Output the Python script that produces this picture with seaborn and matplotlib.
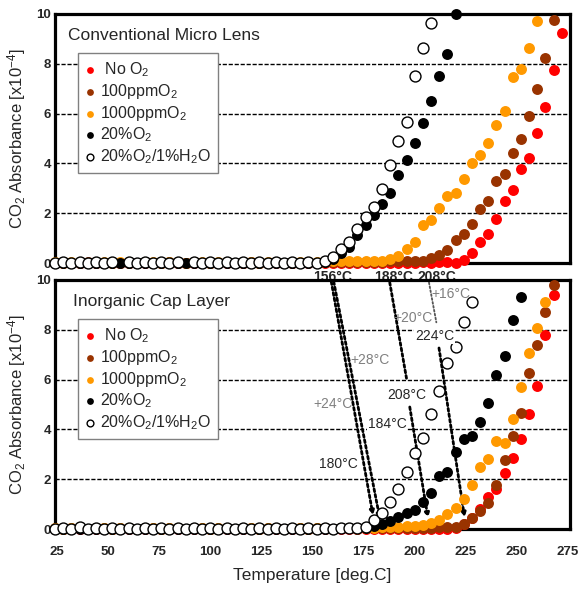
import numpy as np
import pandas as pd
import seaborn as sns
import matplotlib
matplotlib.use('Agg')
import matplotlib.pyplot as plt

sns.set_style('white')
plt.rcParams['font.family'] = ['Liberation Sans', 'DejaVu Sans']
plt.rcParams['mathtext.fontset'] = 'custom'
plt.rcParams['mathtext.rm'] = 'Liberation Sans'
plt.rcParams['mathtext.it'] = 'Liberation Sans:italic'
plt.rcParams['mathtext.bf'] = 'Liberation Sans:bold'
plt.rcParams['mathtext.default'] = 'regular'

nan = np.nan

# measurement temperatures [deg.C]
temps = [24, 28, 32, 36, 40, 44, 48, 52, 56, 60,
         64, 68, 72, 76, 80, 84, 88, 92, 96, 100,
         104, 108, 112, 116, 120, 124, 128, 132, 136, 140,
         144, 148, 152, 156, 160, 164, 168, 172, 176, 180,
         184, 188, 192, 196, 200, 204, 208, 212, 216, 220,
         224, 228, 232, 236, 240, 244, 248, 252, 256, 260,
         264, 268, 272]

# ---- Conventional Micro Lens (CO2 absorbance x1e-4)
red_top = [0, 0.01, 0, 0.01, 0, 0, 0.01, 0, 0, 0.01,
           0, 0, 0.01, 0, 0, 0.01, 0, 0, 0.01, 0,
           0, 0.01, 0, 0, 0.01, 0, 0, 0.01, 0, 0,
           0.01, 0, 0, 0.01, 0, 0, 0.01, 0, 0, 0.01,
           0, 0.01, 0, 0.02, 0.02, 0.03, 0.02, 0.03, 0.03, 0.02,
           0.11, 0.42, 0.85, 1.18, 1.76, 2.47, 2.93, 3.78, 4.22, 5.21,
           6.25, 7.74, 9.22]
brown_top = [0.02, 0.03, 0.02, 0.02, 0.03, 0.02, 0.02, 0.03, 0.02, 0.02,
             0.02, 0.03, 0.02, 0.02, 0.03, 0.02, 0.02, 0.03, 0.02, 0.02,
             0.02, 0.03, 0.02, 0.02, 0.03, 0.02, 0.02, 0.03, 0.02, 0.02,
             0.02, 0.03, 0.02, 0.03, 0.03, 0.04, 0.04, 0.04, 0.05, 0.05,
             0.05, 0.07, 0.07, 0.08, 0.08, 0.10, 0.19, 0.32, 0.52, 0.93,
             1.16, 1.58, 2.17, 2.51, 3.28, 3.58, 4.40, 4.99, 5.90, 6.98,
             8.25, 9.77]
orange_top = [0.03, 0.02, 0.03, 0.03, 0.02, 0.03, 0.03, 0.02, 0.03, 0.03,
              0.02, 0.03, 0.03, 0.02, 0.03, 0.03, 0.02, 0.03, 0.03, 0.02,
              0.03, 0.03, 0.02, 0.03, 0.03, 0.02, 0.03, 0.03, 0.02, 0.03,
              0.03, 0.03, 0.04, 0.05, 0.07, 0.08, 0.08, 0.08, 0.08, 0.09,
              0.10, 0.15, 0.28, 0.58, 0.86, 1.53, 1.73, 2.21, 2.70, 2.83,
              3.36, 4.02, 4.33, 4.80, 5.56, 6.10, 7.47, 7.81, 8.62, 9.71]
black_top = [0.02, 0.02, 0.02, 0.02, 0.02, 0.02, 0.02, 0.02, 0.02, 0.02,
             0.02, 0.02, 0.02, 0.02, 0.02, 0.02, 0.02, 0.02, 0.02, 0.02,
             0.02, 0.02, 0.02, 0.02, 0.02, 0.02, 0.02, 0.02, 0.02, 0.02,
             0.02, 0.02, 0.02, 0.05, 0.15, 0.39, 0.66, 1.13, 1.52, 1.94,
             2.35, 2.83, 3.54, 4.13, 4.81, 5.62, 6.50, 7.51, 8.41, 10.0]
open_top = [0.02, 0.03, 0.02, 0.03, 0.02, 0.03, 0.02, 0.03, nan, 0.03,
            0.02, 0.03, 0.02, 0.03, 0.02, 0.03, nan, 0.03, 0.02, 0.03,
            0.02, 0.03, 0.02, 0.03, 0.02, 0.03, 0.02, 0.03, 0.02, 0.03,
            0.02, 0.03, 0.02, 0.07, 0.23, 0.55, 0.86, 1.37, 1.85, 2.26,
            2.97, 3.94, 4.89, 5.67, 7.51, 8.62, 9.62]

# ---- Inorganic Cap Layer
red_bot = [0.01, 0, 0.01, 0, 0.01, 0, 0.01, 0, 0.01, 0,
           0.01, 0, 0.01, 0, 0.01, 0, 0.01, 0, 0.01, 0,
           0.01, 0, 0.01, 0, 0.01, 0, 0.01, 0, 0.01, 0,
           0.01, 0, 0.01, 0, 0.01, 0, 0.01, 0, 0.01, 0,
           0.01, 0, 0.01, 0, 0.01, 0.01, 0.01, 0.01, 0.02, 0.04,
           0.20, 0.43, 0.80, 1.27, 1.60, 2.23, 2.87, 3.60, 4.60, 5.73,
           7.80, 9.40]
brown_bot = [0.03, 0.02, 0.03, 0.03, 0.02, 0.03, 0.03, 0.02, 0.03, 0.03,
             0.02, 0.03, 0.03, 0.02, 0.03, 0.03, 0.02, 0.03, 0.03, 0.02,
             0.03, 0.03, 0.02, 0.03, 0.03, 0.02, 0.03, 0.03, 0.02, 0.03,
             0.03, 0.02, 0.03, 0.03, 0.02, 0.03, 0.03, 0.02, 0.03, 0.03,
             0.03, 0.03, 0.03, 0.04, 0.04, 0.05, 0.06, 0.07, 0.07, 0.08,
             0.20, 0.45, 0.72, 1.04, 1.76, 2.76, 3.72, 4.64, 6.27, 7.40,
             8.72, 9.80]
orange_bot = [0.03, 0.02, 0.03, 0.03, 0.02, 0.03, 0.03, 0.02, 0.03, 0.03,
              0.02, 0.03, 0.03, 0.02, 0.03, 0.03, 0.02, 0.03, 0.03, 0.02,
              0.03, 0.03, 0.02, 0.03, 0.03, 0.02, 0.03, 0.03, 0.02, 0.03,
              0.03, 0.02, 0.03, 0.03, 0.02, 0.03, 0.03, 0.04, 0.05, 0.06,
              0.10, 0.10, 0.10, 0.11, 0.12, 0.15, 0.23, 0.35, 0.62, 0.85,
              1.22, 1.77, 2.47, 2.81, 3.54, 3.47, 4.42, 5.70, 7.08, 8.09,
              9.10]
black_bot = [0.02, 0.02, 0.02, 0.02, 0.02, 0.02, 0.02, 0.02, 0.02, 0.02,
             0.02, 0.02, 0.02, 0.02, 0.02, 0.02, 0.02, 0.02, 0.02, 0.02,
             0.02, 0.02, 0.02, 0.02, 0.02, 0.02, 0.02, 0.02, 0.02, 0.02,
             0.02, 0.02, 0.02, 0.02, 0.02, 0.03, 0.03, 0.04, 0.06, 0.13,
             0.20, 0.33, 0.47, 0.65, 0.77, 1.10, 1.45, 2.12, 2.29, 3.10,
             3.63, 3.73, 4.29, 5.05, 6.20, 6.96, 8.40, 9.31]
open_bot = [0.02, 0.03, 0.02, 0.10, 0.02, 0.03, 0.02, 0.03, 0.02, 0.03,
            0.02, 0.03, 0.02, 0.03, 0.02, 0.03, 0.02, 0.03, 0.02, 0.03,
            0.02, 0.03, 0.02, 0.03, 0.02, 0.03, 0.02, 0.03, 0.02, 0.03,
            0.02, 0.03, 0.02, 0.03, 0.02, 0.03, 0.03, 0.04, 0.10, 0.35,
            0.63, 1.08, 1.60, 2.30, 3.04, 3.67, 4.60, 5.55, 6.68, 7.30,
            8.32, 9.10]

labels = [' No O$_2$', '100ppmO$_2$', '1000ppmO$_2$', '20%O$_2$', '20%O$_2$/1%H$_2$O']
faces = ['#ff0000', '#993300', '#ff9900', '#000000', '#ffffff']
edges = ['#ff0000', '#993300', '#ff9900', '#000000', '#000000']

# onset temperatures (top) and shifted onsets (bottom)
onset_top = ['156', '188', '208']
onset_top_x = [160, 189.5, 211]
shift_labels = ['180', '184', '208', '224']
shift_pos = [(162.8, 2.6), (186.5, 4.2), (196.3, 5.4), (209.8, 7.75)]
delta_labels = ['+24', '+28', '+20', '+16']
delta_pos = [(160, 5.0), (178.3, 6.77), (199.1, 8.47), (217.9, 9.44)]


def draw_panel(ax, series, title, title_x):
    for vals, lab, fc, ec in zip(series, labels, faces, edges):
        df = pd.DataFrame({'Temperature': temps[:len(vals)], 'Absorbance': vals})
        lw = 1.0 if fc == '#ffffff' else 0
        sns.scatterplot(data=df, x='Temperature', y='Absorbance', ax=ax, s=62,
                        color=fc, edgecolor=ec, linewidth=lw, label=lab,
                        zorder=3, clip_on=False)
    ax.set_xlim(24, 276)
    ax.set_ylim(0, 10)
    ax.set_xticks(range(25, 276, 25))
    ax.set_yticks(range(0, 11, 2))
    for y in [2, 4, 6, 8]:
        ax.axhline(y, color='black', ls=(0, (3, 1.3)), lw=1.0, zorder=1)
    for sp in ax.spines.values():
        sp.set_linewidth(2.3)
        sp.set_color('black')
    ax.tick_params(axis='x', direction='in', length=7, width=0.8, pad=12, labelsize=9.5)
    ax.tick_params(axis='y', direction='in', length=3, width=0.8, pad=3, labelsize=9.5)
    for t in ax.get_xticklabels() + ax.get_yticklabels():
        t.set_fontweight('bold')
    ax.set_ylabel('CO$_2$ Absorbance [x10$^{-4}$]', fontsize=12)
    ax.yaxis.set_label_coords(-0.053, 0.5)
    ax.text(title_x, 0.915, title, transform=ax.transAxes, fontsize=12.5,
            ha='left', va='center')
    leg = ax.legend(loc='upper left', bbox_to_anchor=(0.045, 0.843), frameon=True,
                    fancybox=False, edgecolor='#808080', framealpha=1, fontsize=11.5,
                    markerscale=0.62, handlelength=0.6, handletextpad=0.3,
                    borderpad=0.45, labelspacing=0.18, borderaxespad=0)
    leg.get_frame().set_linewidth(1.0)
    leg.set_zorder(6)


def link(ax, p0, p1, color='black', lw=2.0, head=True, dots=(0, (1, 1))):
    ax.annotate('', xy=p1, xytext=p0,
                arrowprops=dict(arrowstyle='-|>' if head else '-', color=color, lw=lw,
                                ls=dots, shrinkA=0, shrinkB=0, mutation_scale=6),
                zorder=2)


fig = plt.figure(figsize=(5.8, 5.89), dpi=100)
ax1 = fig.add_axes([55 / 580, 1 - 263 / 589, 515 / 580, 249 / 589])
ax2 = fig.add_axes([55 / 580, 1 - 529 / 589, 515 / 580, 249 / 589])

draw_panel(ax1, [red_top, brown_top, orange_top, black_top, open_top],
           'Conventional Micro Lens', 0.025)
ax1.tick_params(axis='x', labelbottom=False)
ax1.set_xlabel('')
for lab, x in zip(onset_top, onset_top_x):
    ax1.text(x, -0.3, lab + '°C', fontsize=10, fontweight='bold', ha='center',
             va='top', clip_on=False)

draw_panel(ax2, [red_bot, brown_bot, orange_bot, black_bot, open_bot],
           'Inorganic Cap Layer', 0.035)
ax2.set_xlabel('Temperature [deg.C]', fontsize=12.5)
ax2.xaxis.set_label_coords(0.5, -0.158)

# shift arrows: top-panel onsets -> bottom-panel onsets
link(ax2, (159.2, 9.93), (179.6, 0.55))
link(ax2, (160.4, 9.93), (183.0, 0.4))
link(ax2, (187.8, 9.9), (196.0, 6.05), head=False)
link(ax2, (197.6, 4.9), (206.5, 0.45))
link(ax2, (207.0, 9.9), (210.6, 8.3), color='#555555', lw=1.3, head=False,
     dots=(0, (1, 1.2)))
link(ax2, (211.9, 7.27), (224.4, 0.47))

for lab, (x, y) in zip(shift_labels, shift_pos):
    ax2.text(x, y, lab + '°C', fontsize=10, ha='center', va='center', zorder=4,
             bbox=dict(facecolor='white', edgecolor='none', pad=0.5))
for lab, (x, y) in zip(delta_labels, delta_pos):
    ax2.text(x, y, lab + '°C', fontsize=10, color='#808080', ha='center',
             va='center', zorder=4)

fig.savefig('out.png', dpi=100)
